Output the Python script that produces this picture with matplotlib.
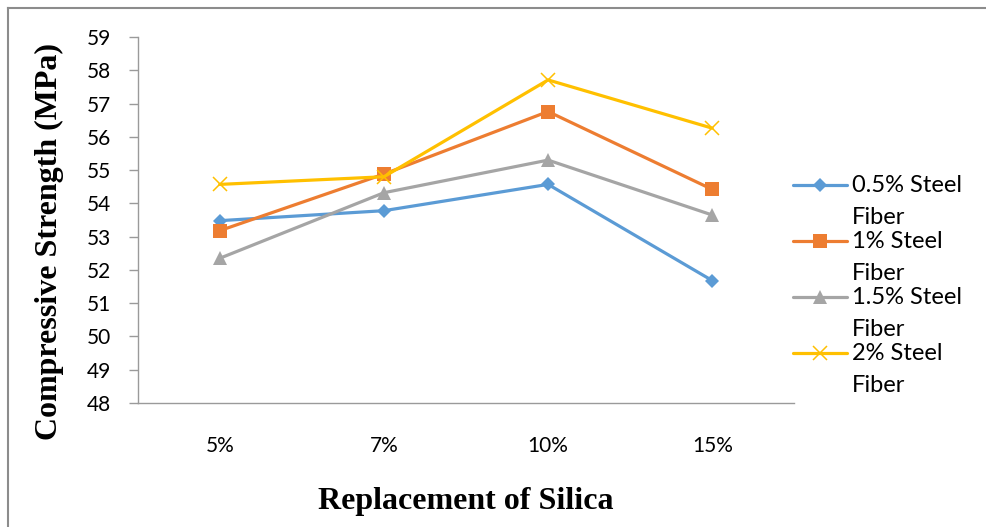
import matplotlib
matplotlib.use("Agg")
import matplotlib.pyplot as plt
from matplotlib.lines import Line2D

# Data
replacement = ["5%", "7%", "10%", "15%"]
fiber_05 = [53.48, 53.78, 54.57, 51.68]
fiber_10 = [53.18, 54.88, 56.76, 54.42]
fiber_15 = [52.35, 54.32, 55.30, 53.65]
fiber_20 = [54.57, 54.80, 57.71, 56.26]
series_names = ["0.5% Steel Fiber", "1% Steel Fiber", "1.5% Steel Fiber", "2% Steel Fiber"]
y_ticks = list(range(48, 60))

series = [fiber_05, fiber_10, fiber_15, fiber_20]
colors = ["#5B9BD5", "#ED7D31", "#A5A5A5", "#FFC000"]
markers = ["D", "s", "^", "x"]
msizes = [6.8, 10, 10, 9.5]
axis_grey = "#9a9a9a"

W, H = 987, 527
fig = plt.figure(figsize=(W / 100, H / 100), dpi=100)
fig.patch.set_facecolor("white")

def fx(px):
    return px / W

def fy(py):
    return 1 - py / H

ax = fig.add_axes([fx(137.7), fy(403), fx(794.3) - fx(137.7), fy(37) - fy(403)])

xs = list(range(len(replacement)))
for vals, c, m, ms in zip(series, colors, markers, msizes):
    mew = 1.1 if m == "x" else 0
    ax.plot(xs, vals, color=c, lw=2.3, marker=m, markersize=ms,
            markerfacecolor=c, markeredgecolor=c, markeredgewidth=mew,
            solid_joinstyle="round", solid_capstyle="round", zorder=3)

ax.set_xlim(-0.5, len(replacement) - 0.5)
ax.set_ylim(48, 59)
ax.set_yticks(y_ticks)
ax.set_xticks(xs)
ax.set_xticklabels(replacement)

sans = ["Lato", "DejaVu Sans"]
for lbl in ax.get_xticklabels() + ax.get_yticklabels():
    lbl.set_fontfamily(sans)
    lbl.set_fontsize(15)
    lbl.set_color("#000000")

ax.tick_params(axis="y", direction="out", length=6.2, width=1.0, color=axis_grey, pad=13)
ax.tick_params(axis="x", length=0, pad=24)

for side in ("top", "right"):
    ax.spines[side].set_visible(False)
for side in ("left", "bottom"):
    ax.spines[side].set_color(axis_grey)
    ax.spines[side].set_linewidth(1.0)

label_font = dict(family=["Liberation Serif", "DejaVu Serif"], size=23, weight="bold")
ax.set_xlabel("Replacement of Silica", **label_font, va="center")
ax.xaxis.set_label_coords((466 - 137.7) / 656.6, (403 - 501.7) / 366)
ax.set_ylabel("Compressive Strength (MPa)", **label_font, va="center")
ax.yaxis.set_label_coords((49 - 137.7) / 656.6, (403 - 242) / 366)

# Legend: handle beside the first line of each two-line label
for i, (name, c, m, ms) in enumerate(zip(series_names, colors, markers, msizes)):
    y0 = 185 + 56 * i
    mew = 1.1 if m == "x" else 0
    fig.add_artist(Line2D([fx(793), fx(820), fx(847)], [fy(y0)] * 3,
                          color=c, lw=2.3, marker=m, markersize=ms, markevery=[1],
                          markerfacecolor=c, markeredgecolor=c, markeredgewidth=mew,
                          solid_capstyle="round"))
    first, second = name.rsplit(" ", 1)
    fig.text(fx(852), fy(y0), first, ha="left", va="center",
             fontfamily=sans, fontsize=17)
    fig.text(fx(852), fy(y0 + 32), second, ha="left", va="center",
             fontfamily=sans, fontsize=17)

# Chart frame
frame_col = "#8c8c8c"
fig.add_artist(Line2D([fx(8), fx(8)], [0, fy(8)], color=frame_col, lw=1.5))
fig.add_artist(Line2D([fx(8), 1], [fy(8), fy(8)], color=frame_col, lw=1.5))

fig.savefig("out.png", dpi=100, facecolor="white")
